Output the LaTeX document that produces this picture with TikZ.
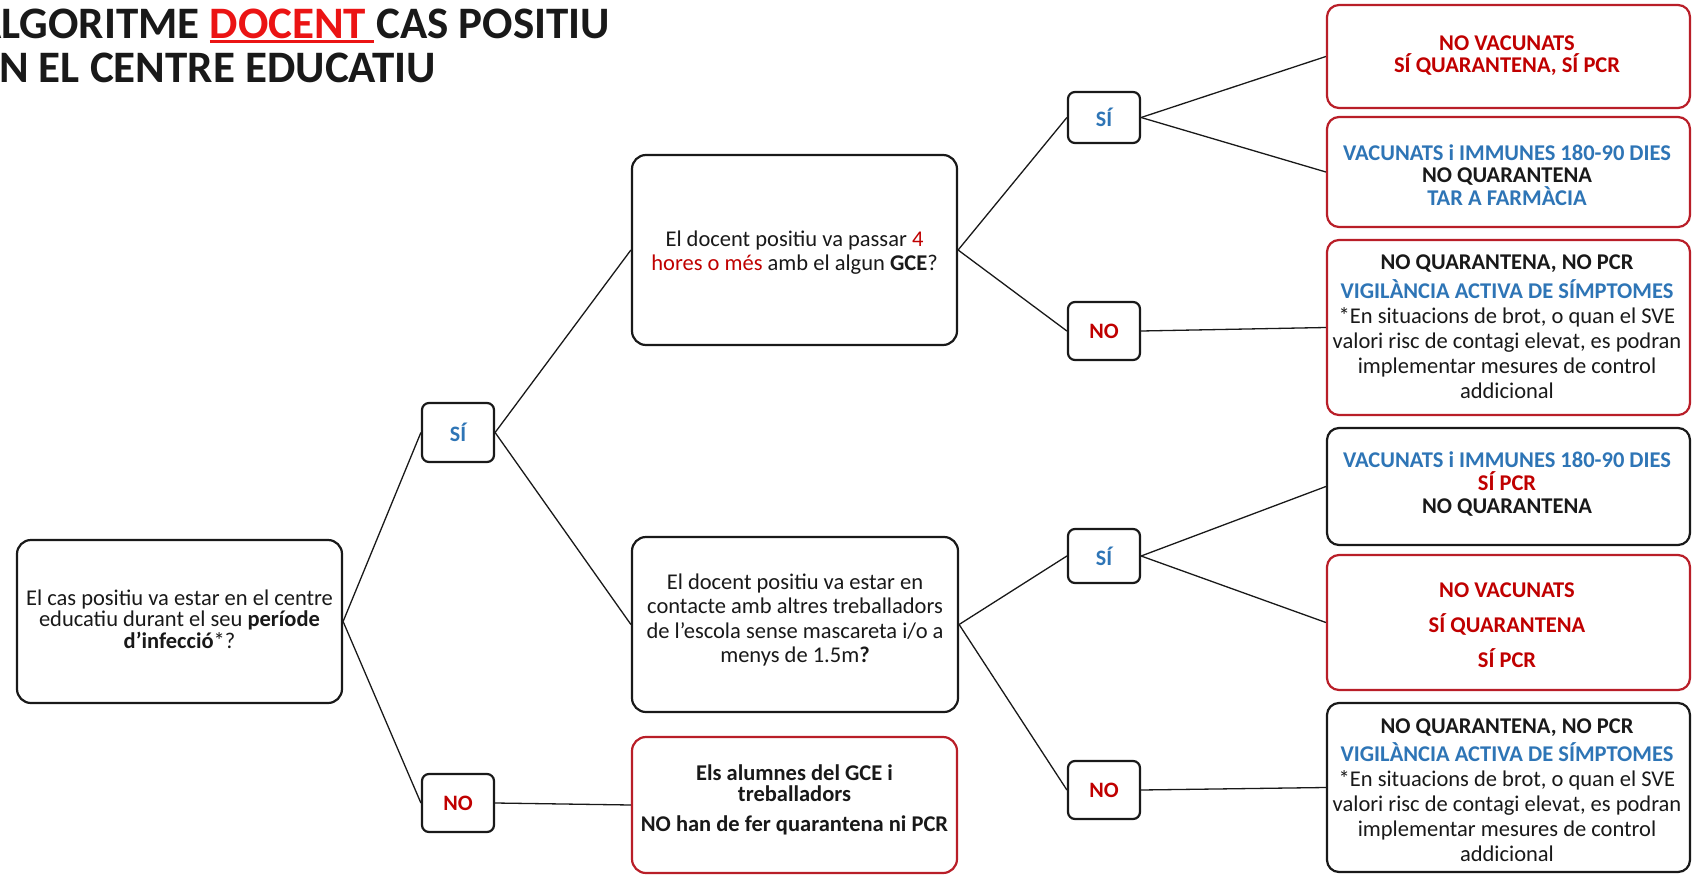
\documentclass[tikz,border=0pt]{standalone}
\usepackage{fontspec}
\setmainfont{Carlito}
\newfontfamily\titlefont{Carlito}
\definecolor{tred}{RGB}{235,20,20}
\definecolor{dred}{RGB}{192,0,0}
\definecolor{bblue}{RGB}{46,117,182}
\definecolor{bred}{RGB}{185,30,40}
\definecolor{ink}{RGB}{25,25,25}
\newcommand\redul[1]{\setbox0\hbox{#1}\rlap{\color{tred}\rule[-4pt]{\dimexpr\wd0+8pt\relax}{2.5pt}}#1}
\begin{document}
\begin{tikzpicture}[x=1pt,y=-1pt,
  bx/.style={draw=ink, line width=2.2pt, rounded corners=14pt, fill=white, inner sep=0pt},
  redbx/.style={bx, draw=bred},
  smallbx/.style={draw=ink, line width=2.2pt, rounded corners=7pt, fill=white, minimum width=72pt, inner sep=0pt},
  txt/.style={align=center, inner sep=0pt, text=ink, font=\fontsize{22.5}{25}\selectfont},
  lbl/.style={align=center, inner sep=0pt, font=\fontsize{22}{25}\selectfont\bfseries},
  conn/.style={draw=ink, line width=1.3pt},
]
\clip (0,0) rectangle (1692,875);
\fill[white] (0,0) rectangle (1692,875);
% title
\node[anchor=base west, inner sep=0pt, text=ink, font=\titlefont\fontsize{45}{50}\selectfont\bfseries] (title1) at (-26,39) {ALGORITME {\color{tred}\redul{DOCENT}} CAS POSITIU};
\node[anchor=base west, inner sep=0pt, text=ink, font=\titlefont\fontsize{45}{50}\selectfont\bfseries] (title2) at (-23,82) {EN EL CENTRE EDUCATIU};
% boxes
\node[bx, minimum width=325pt, minimum height=163pt] (q0) at (179.5,621.5) {};
\node[smallbx, minimum height=59pt] (si1) at (458,432.5) {};
\node[smallbx, minimum height=58pt] (no1) at (458,803) {};
\node[bx, minimum width=325pt, minimum height=190pt] (m1) at (794.5,250) {};
\node[bx, minimum width=326pt, minimum height=175pt] (m2) at (795,624.5) {};
\node[redbx, minimum width=325pt, minimum height=136pt] (m3) at (794.5,805) {};
\node[smallbx, minimum height=51pt] (si2) at (1104,117.5) {};
\node[smallbx, minimum height=58pt] (no2) at (1104,331) {};
\node[smallbx, minimum height=54pt] (si3) at (1104,556) {};
\node[smallbx, minimum height=58pt] (no3) at (1104,790) {};
\node[redbx, rounded corners=12pt, minimum width=363pt, minimum height=103pt] (r1) at (1508.5,56.5) {};
\node[redbx, rounded corners=12pt, minimum width=363pt, minimum height=110pt] (r2) at (1508.5,172) {};
\node[redbx, rounded corners=12pt, minimum width=363pt, minimum height=175pt] (r3) at (1508.5,327.5) {};
\node[bx, rounded corners=12pt, minimum width=363pt, minimum height=117pt] (r4) at (1508.5,486.5) {};
\node[redbx, rounded corners=12pt, minimum width=363pt, minimum height=135pt] (r5) at (1508.5,622.5) {};
\node[bx, rounded corners=12pt, minimum width=363pt, minimum height=169pt] (r6) at (1508.5,787.5) {};
% connectors
\draw[conn] (q0.east) -- (si1.west);
\draw[conn] (q0.east) -- (no1.west);
\draw[conn] (si1.east) -- (m1.west);
\draw[conn] (si1.east) -- (m2.west);
\draw[conn] (no1.east) -- (m3.west);
\draw[conn] (m1.east) -- (si2.west);
\draw[conn] (m1.east) -- (no2.west);
\draw[conn] (si2.east) -- (r1.west);
\draw[conn] (si2.east) -- (r2.west);
\draw[conn] (no2.east) -- (r3.west);
\draw[conn] (m2.east) -- (si3.west);
\draw[conn] (m2.east) -- (no3.west);
\draw[conn] (si3.east) -- (r4.west);
\draw[conn] (si3.east) -- (r5.west);
\draw[conn] (no3.east) -- (r6.west);
% texts
\node[txt, font=\fontsize{22.5}{21.5}\selectfont] (q0t) at (179.5,619) {El cas positiu va estar en el centre\\educatiu durant el seu \textbf{període}\\\textbf{d’infecció}*?};
\node[lbl, text=bblue] (si1t) at (458,432.5) {SÍ};
\node[lbl, text=dred] (no1t) at (458,803) {NO};
\node[txt, font=\fontsize{22.5}{24}\selectfont] (m1t) at (794.5,253) {El docent positiu va passar {\color{dred}4}\\{\color{dred}hores o més} amb el algun \textbf{GCE}?};
\node[txt, font=\fontsize{22.5}{24.5}\selectfont] (m2t) at (795,620) {El docent positiu va estar en\\contacte amb altres treballadors\\de l’escola sense mascareta i/o a\\menys de 1.5m\textbf{?}};
\node[txt, font=\fontsize{22.5}{21}\selectfont\bfseries] (m3t) at (794.5,800) {Els alumnes del GCE i\\treballadors\\[9pt]NO han de fer quarantena ni PCR};
\node[lbl, text=bblue] (si2t) at (1104,117.5) {SÍ};
\node[lbl, text=dred] (no2t) at (1104,331) {NO};
\node[lbl, text=bblue] (si3t) at (1104,556) {SÍ};
\node[lbl, text=dred] (no3t) at (1104,790) {NO};
\node[txt, text=dred, font=\fontsize{22.5}{22}\selectfont\bfseries] (r1t) at (1507,56) {NO VACUNATS\\SÍ QUARANTENA, SÍ PCR};
\node[txt, font=\fontsize{22.5}{22.5}\selectfont\bfseries] (r2t) at (1507,175) {{\color{bblue}VACUNATS i IMMUNES 180-90 DIES}\\NO QUARANTENA\\{\color{bblue}TAR A FARMÀCIA}};
\node[txt, font=\fontsize{22.5}{25}\selectfont] (r3t) at (1507,327) {\textbf{NO QUARANTENA, NO PCR}\\[4pt]{\color{bblue}\textbf{VIGILÀNCIA ACTIVA DE SÍMPTOMES}}\\*En situacions de brot, o quan el SVE\\valori risc de contagi elevat, es podran\\implementar mesures de control\\addicional};
\node[txt, font=\fontsize{22.5}{23}\selectfont\bfseries] (r4t) at (1507,484) {{\color{bblue}VACUNATS i IMMUNES 180-90 DIES}\\{\color{dred}SÍ PCR}\\NO QUARANTENA};
\node[txt, text=dred, font=\fontsize{22.5}{35}\selectfont\bfseries] (r5t) at (1507,625) {NO VACUNATS\\SÍ QUARANTENA\\SÍ PCR};
\node[txt, font=\fontsize{22.5}{25}\selectfont] (r6t) at (1507,790) {\textbf{NO QUARANTENA, NO PCR}\\[3pt]{\color{bblue}\textbf{VIGILÀNCIA ACTIVA DE SÍMPTOMES}}\\*En situacions de brot, o quan el SVE\\valori risc de contagi elevat, es podran\\implementar mesures de control\\addicional};
\end{tikzpicture}
\end{document}
